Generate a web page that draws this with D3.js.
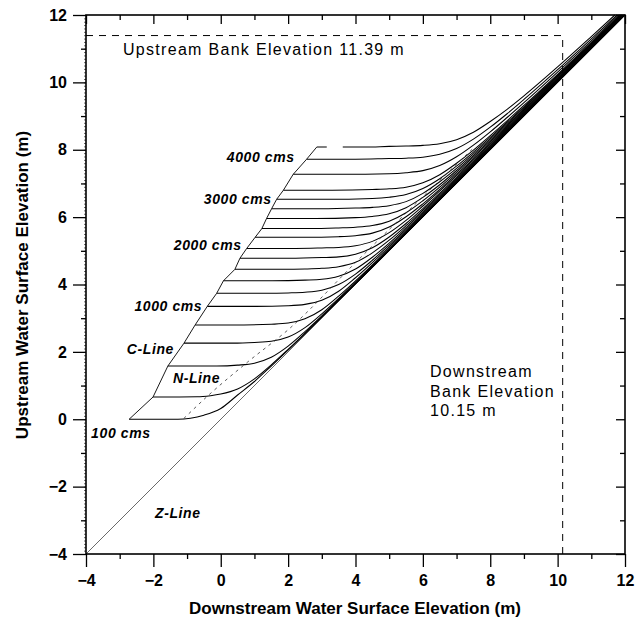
<!DOCTYPE html>
<html><head><meta charset="utf-8">
<script src="https://cdn.jsdelivr.net/npm/d3@7"></script>
<style>
html,body{margin:0;padding:0;background:#fff;}
svg{display:block;}
text{font-family:"Liberation Sans",Arial,sans-serif;fill:#000;}
</style></head><body>
<svg id="chart" width="637" height="628"></svg>
<script>
// Discharge of each rating curve (cms)
const flows = [100,200,400,600,800,1000,1200,1400,1600,1800,2000,2200,2400,2600,2800,3000,3200,3600,4000,4400];

// Rating curves: [downstream WSE, upstream WSE] in metres, one list per discharge
const curves = [
  [[-2.72,0.00],[-1.27,0.00],[-0.9,0.03],[-0.5,0.12],[0,0.32],[0.5,0.72],[1,1.12],[1.5,1.58],[2,2.05],[3,3.03],[5,5.01],[12,12]],
  [[-2.01,0.66],[-0.7,0.665],[-0.3,0.70],[0,0.75],[0.5,0.90],[1,1.20],[1.5,1.615],[2,2.075],[3,3.043],[5,5.017],[11.99,12]],
  [[-1.57,1.58],[-0.12,1.58],[0.5,1.606],[1,1.665],[1.5,1.84],[2,2.17],[2.5,2.60],[3,3.071],[4,4.044],[6,6.019],[11.99,12]],
  [[-1.09,2.26],[0.36,2.26],[1,2.28],[1.5,2.315],[2,2.44],[2.5,2.72],[3,3.13],[3.5,3.588],[4,4.07],[5,5.046],[7,7.022],[11.99,12]],
  [[-0.76,2.80],[0.69,2.80],[1.5,2.82],[2,2.855],[2.5,2.98],[3,3.25],[3.5,3.655],[4,4.109],[5,5.071],[6,6.049],[8,8.025],[11.99,12]],
  [[-0.40,3.35],[1.05,3.35],[2,3.37],[2.5,3.41],[3,3.53],[3.5,3.80],[4,4.20],[5,5.12],[6,6.08],[8,8.04],[11.98,12]],
  [[-0.12,3.74],[1.33,3.74],[2,3.75],[2.5,3.77],[3,3.83],[3.5,4.00],[4,4.31],[4.5,4.72],[5,5.171],[6,6.116],[8,8.06],[10,10.034],[11.98,12]],
  [[0.08,4.11],[1.53,4.11],[2.5,4.13],[3,4.155],[3.5,4.245],[4,4.46],[4.5,4.81],[5,5.228],[6,6.155],[8,8.08],[10,10.046],[11.97,12]],
  [[0.42,4.45],[1.87,4.45],[2.5,4.46],[3,4.48],[3.5,4.53],[4,4.66],[4.5,4.94],[5,5.315],[5.5,5.746],[6,6.204],[7,7.144],[8,8.105],[10,10.06],[11.96,12]],
  [[0.57,4.78],[2.02,4.78],[3,4.80],[3.5,4.82],[4,4.90],[4.5,5.09],[5,5.41],[5.5,5.81],[6,6.252],[7,7.178],[8,8.13],[10,10.074],[11.95,12]],
  [[0.77,5.07],[2.22,5.07],[3,5.085],[3.5,5.10],[4,5.15],[4.5,5.28],[5,5.54],[5.5,5.905],[6,6.33],[7,7.23],[8,8.17],[9,9.12],[10,10.09],[11.94,12]],
  [[1.02,5.40],[2.47,5.40],[3.5,5.42],[4,5.45],[4.5,5.525],[5,5.705],[5.5,6.01],[6,6.395],[7,7.275],[8,8.2],[9,9.149],[10,10.114],[11.93,12]],
  [[1.22,5.66],[2.67,5.66],[3.5,5.68],[4,5.70],[4.5,5.75],[5,5.88],[5.5,6.13],[6,6.485],[6.5,6.89],[7,7.33],[8,8.24],[9,9.18],[10,10.137],[11.92,12]],
  [[1.36,5.96],[2.81,5.96],[4,5.985],[4.5,6.02],[5,6.10],[5.5,6.28],[6,6.585],[6.5,6.96],[7,7.384],[8,8.28],[9,9.209],[10,10.16],[11.90,12]],
  [[1.51,6.25],[2.96,6.25],[4,6.27],[4.5,6.29],[5,6.34],[5.5,6.46],[6,6.705],[6.5,7.05],[7,7.446],[7.5,7.879],[8,8.325],[9,9.243],[10,10.186],[11.89,12]],
  [[1.66,6.53],[3.11,6.53],[4.5,6.555],[5,6.59],[5.5,6.67],[6,6.85],[6.5,7.14],[7,7.515],[7.5,7.932],[8,8.37],[9,9.276],[10,10.211],[11.87,12]],
  [[1.86,6.80],[3.31,6.80],[4.5,6.82],[5,6.84],[5.5,6.89],[6,7.02],[6.5,7.26],[7,7.60],[7.5,7.99],[8,8.42],[9,9.314],[10,10.24],[11,11.186],[11.85,12]],
  [[2.15,7.27],[3.60,7.27],[5,7.29],[5.5,7.32],[6,7.38],[6.5,7.53],[7,7.79],[7.5,8.135],[8,8.53],[8.5,8.957],[9,9.396],[10,10.303],[11,11.235],[11.81,12]],
  [[2.55,7.72],[4.00,7.72],[5,7.74],[5.5,7.75],[6,7.78],[6.5,7.865],[7,8.035],[7.5,8.315],[8,8.67],[8.5,9.069],[9,9.493],[10,10.377],[11,11.293],[11.77,12]],
  [[2.85,8.08],[4.30,8.08],[5,8.10],[5.5,8.11],[6,8.13],[6.5,8.18],[7,8.30],[7.5,8.52],[8,8.84],[8.5,9.20],[9,9.60],[10,10.46],[11,11.36],[11.70,12]]
];

// N-Line (normal depth) and Z-Line (zero head loss)
const nLine = [[-1.10,0.02],[-0.40,0.68],[0.80,1.70],[2.05,2.70],[4.00,4.65],[6.20,6.80],[7.50,8.05]];
const zLine = [[-4,-4],[12,12]];

// Bank elevations (m)
const upstreamBank = 11.39;
const downstreamBank = 10.15;

// Axis ticks
const majorTicks = [-4,-2,0,2,4,6,8,10,12];
const minorTicks = [-3,-1,1,3,5,7,9,11];

// Labelled discharges
const flowLabels = [
  {flow:4000, text:"4000 cms"},
  {flow:3000, text:"3000 cms"},
  {flow:2000, text:"2000 cms"},
  {flow:1000, text:"1000 cms"}
];

const svg = d3.select("#chart");
const x = d3.scaleLinear().domain([-4,12]).range([86,625]);
const y = d3.scaleLinear().domain([-4,12]).range([554,15]);

const line = d3.line().x(d=>x(d[0])).y(d=>y(d[1])).curve(d3.curveMonotoneX);
const straight = d3.line().x(d=>x(d[0])).y(d=>y(d[1]));

const plot = svg.append("g");

// Z-Line
plot.append("path").attr("d", straight(zLine))
  .attr("fill","none").attr("stroke","#444").attr("stroke-width",0.8);

// Rating curves
curves.forEach((c,i)=>{
  const p = plot.append("path").attr("d", line(c))
    .attr("fill","none").attr("stroke","#000").attr("stroke-width",1.05);
  if (flows[i] === 4400) p.attr("stroke-dasharray","10,16,3000");
});

// C-Line through the left end of every curve
const cLine = curves.map(c=>c[0]);
plot.append("path").attr("d", straight(cLine))
  .attr("fill","none").attr("stroke","#000").attr("stroke-width",0.9);

// N-Line
plot.append("path").attr("d", line(nLine))
  .attr("fill","none").attr("stroke","#333").attr("stroke-width",0.8)
  .attr("stroke-dasharray","3,4");

// Bank elevation lines
plot.append("path").attr("d", straight([[-4,upstreamBank],[downstreamBank,upstreamBank]]))
  .attr("fill","none").attr("stroke","#000").attr("stroke-width",1).attr("stroke-dasharray","7,6");
plot.append("path").attr("d", straight([[downstreamBank,-4],[downstreamBank,upstreamBank]]))
  .attr("fill","none").attr("stroke","#000").attr("stroke-width",1).attr("stroke-dasharray","7,6");

// Annotations
const ann = svg.append("g").attr("font-size",16).attr("letter-spacing",1.3);
ann.append("text").attr("x",123).attr("y",y(upstreamBank)+19).text("Upstream Bank Elevation 11.39 m");
ann.append("text").attr("x",430).attr("y",377).text("Downstream");
ann.append("text").attr("x",430).attr("y",397).text("Bank Elevation");
ann.append("text").attr("x",430).attr("y",416).text("10.15 m");

const lab = svg.append("g").attr("font-size",14).attr("font-weight","bold")
  .attr("font-style","italic").attr("letter-spacing",0.6);
const lblOff = {4000:[-12,3], 3000:[-5,5], 2000:[-5,2], 1000:[-5,5]};
flowLabels.forEach(l=>{
  const c = curves[flows.indexOf(l.flow)][0];
  lab.append("text").attr("x", x(c[0])+lblOff[l.flow][0]).attr("y", y(c[1])+lblOff[l.flow][1])
    .attr("text-anchor","end").text(l.text);
});
lab.append("text").attr("x",x(curves[0][0][0])-38).attr("y",y(curves[0][0][1])+19).text("100 cms");
lab.append("text").attr("x",174).attr("y",354).attr("text-anchor","end").text("C-Line");
lab.append("text").attr("x",173).attr("y",383).text("N-Line");
lab.append("text").attr("x",155).attr("y",518).text("Z-Line");

// Axes
function styleAxis(g){ g.select(".domain").remove(); g.selectAll("line").attr("stroke","#000").attr("stroke-width",1.3); }
const fmt = d3.format("d");

svg.append("g").attr("transform","translate(0,554)")
  .call(d3.axisBottom(x).tickValues(majorTicks).tickSize(13).tickPadding(8).tickFormat(fmt))
  .call(styleAxis)
  .selectAll("text").attr("font-size",16).attr("font-weight","bold").attr("font-family","Liberation Sans, Arial, sans-serif");
svg.append("g").attr("transform","translate(0,554)")
  .call(d3.axisBottom(x).tickValues(minorTicks).tickSize(5).tickFormat("")).call(styleAxis);

svg.append("g").attr("transform","translate(86,0)")
  .call(d3.axisLeft(y).tickValues(majorTicks).tickSize(13).tickPadding(6).tickFormat(fmt))
  .call(styleAxis)
  .selectAll("text").attr("font-size",16).attr("font-weight","bold").attr("font-family","Liberation Sans, Arial, sans-serif");
svg.append("g").attr("transform","translate(86,0)")
  .call(d3.axisLeft(y).tickValues(minorTicks).tickSize(5).tickFormat("")).call(styleAxis);
svg.append("g").attr("transform","translate(86,0)")
  .call(d3.axisLeft(y).tickValues(d3.range(-40,121,1).map(v=>v/10)).tickSize(2).tickFormat(""))
  .call(g=>{g.select(".domain").remove(); g.selectAll("line").attr("stroke","#000").attr("stroke-width",0.6);});

svg.append("g").attr("transform","translate(0,15)")
  .call(d3.axisTop(x).tickValues(majorTicks).tickSize(-9).tickFormat("")).call(styleAxis);
svg.append("g").attr("transform","translate(0,15)")
  .call(d3.axisTop(x).tickValues(minorTicks).tickSize(-5).tickFormat("")).call(styleAxis);
svg.append("g").attr("transform","translate(625,0)")
  .call(d3.axisRight(y).tickValues(majorTicks).tickSize(-9).tickFormat("")).call(styleAxis);
svg.append("g").attr("transform","translate(625,0)")
  .call(d3.axisRight(y).tickValues(minorTicks).tickSize(-5).tickFormat("")).call(styleAxis);

// Frame
svg.append("rect").attr("x",86).attr("y",15).attr("width",539).attr("height",539)
  .attr("fill","none").attr("stroke","#000").attr("stroke-width",1.6);

// Axis titles
svg.append("text").attr("x",355).attr("y",614).attr("text-anchor","middle")
  .attr("font-size",17).attr("font-weight","bold").text("Downstream Water Surface Elevation (m)");
svg.append("text").attr("transform","translate(28,285) rotate(-90)").attr("text-anchor","middle")
  .attr("font-size",17).attr("font-weight","bold").text("Upstream Water Surface Elevation (m)");
</script>
</body></html>
